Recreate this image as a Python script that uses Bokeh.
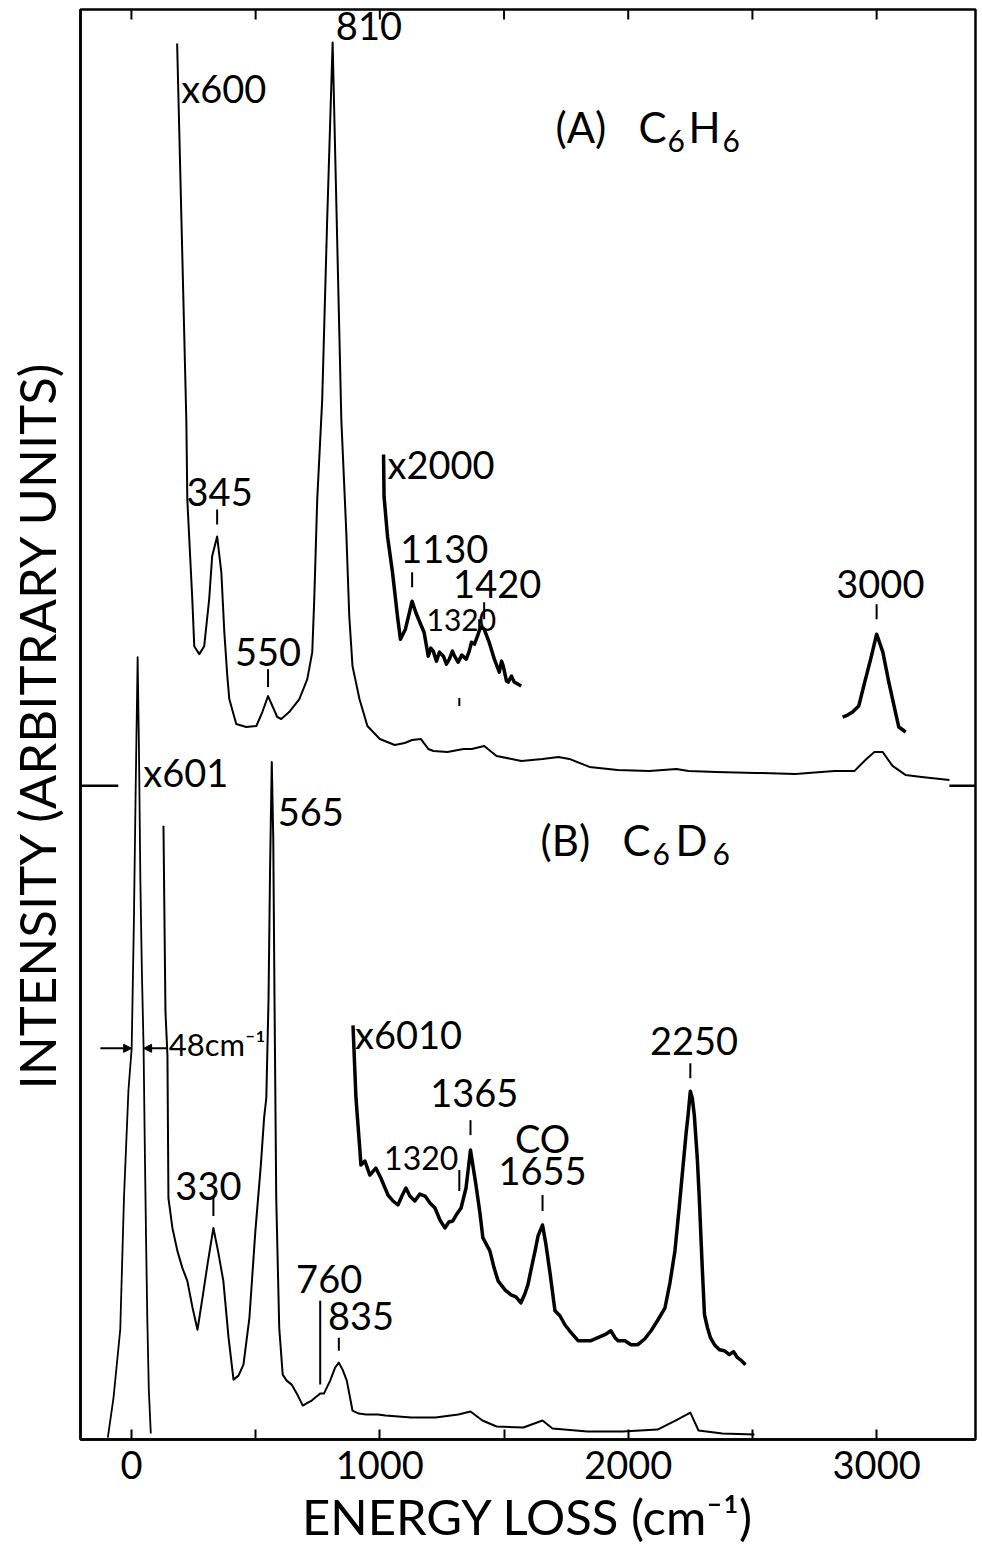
from bokeh.plotting import figure
from bokeh.models import Range1d, FixedTicker, ColumnDataSource, Arrow, NormalHead
from bokeh.core.properties import value
from bokeh.embed import file_html
from bokeh.resources import INLINE

# ---------------- data: energy loss (cm^-1) and intensity (arbitrary units) ----------------
# (A) C6H6, x600 trace (continues as the baseline out to 3300 cm^-1)
a600_e = [184, 221, 225, 245, 253, 273, 293, 313, 325, 345, 362, 374, 386, 394, 422, 462, 503,
          527, 550, 587, 603, 635, 676, 708, 728, 736, 748, 768, 788, 810, 845, 865, 877, 890,
          918, 950, 1000, 1060, 1100, 1130, 1165, 1195, 1216, 1272, 1337, 1370, 1420, 1470,
          1570, 1655, 1719, 1763, 1844, 1957, 2085, 2194, 2243, 2355, 2512, 2673, 2830, 2911,
          2959, 2991, 3024, 3064, 3116, 3181, 3293]
a600_i = [1399, 1022, 942, 842, 795, 787, 795, 842, 885, 905, 869, 809, 765, 742, 717, 714, 715,
          729, 745, 724, 722, 729, 742, 762, 789, 842, 942, 1042, 1222, 1400, 1022, 909, 825, 775,
          742, 715, 702, 696, 698, 701, 702, 692, 690, 689, 692, 692, 695, 685,
          680, 682, 684, 682, 674, 671, 670, 672, 670, 669, 668, 667, 670, 670,
          682, 689, 689, 675, 666, 664, 661]

# (A) x2000 expansion, 1000-1600 cm^-1
a2000_lo_e = [1015, 1017, 1031, 1051, 1071, 1083, 1103, 1130, 1146, 1161, 1178, 1195, 1205, 1215,
              1228, 1240, 1256, 1268, 1280, 1292, 1301, 1315, 1330, 1348, 1360, 1369, 1381, 1393,
              1405, 1420, 1440, 1461, 1481, 1490, 1497, 1510, 1517, 1530, 1541, 1555, 1569]
a2000_lo_i = [987, 945, 905, 869, 825, 802, 812, 840, 828, 819, 809, 785, 793, 790,
              780, 789, 785, 777, 782, 790, 785, 779, 786, 782, 790, 799, 797, 805,
              814, 812, 799, 782, 769, 780, 775, 760, 759, 765, 759, 757, 755]

# (A) x2000 expansion, C-H stretch region
a2000_hi_e = [2863, 2883, 2903, 2928, 2952, 2976, 3000, 3025, 3049, 3073, 3089, 3117]
a2000_hi_i = [724, 726, 729, 735, 759, 782, 807, 789, 759, 732, 714, 709]

# (B) C6D6, elastic peak (x1)
b_el_e = [-95, -72, -45, -30, -12, 1, 10, 17, 25, 30, 36, 42, 49, 54, 59, 64, 70, 78]
b_el_i = [2, 42, 110, 242, 350, 392, 520, 650, 784, 700, 560, 470, 392, 290, 200, 120, 50, 6]

# (B) x601 trace
b601_e = [129, 137, 145, 149, 165, 185, 205, 225, 246, 266, 286, 306, 330, 350, 370, 391, 411,
          431, 451, 475, 499, 521, 534, 543, 552, 558, 565, 571, 576, 583, 595, 609, 625, 645,
          670, 690, 710, 726, 740, 760, 775, 800, 820, 835, 850, 867, 890, 915, 945, 992, 1023,
          1127, 1224, 1316, 1365, 1413, 1470, 1578, 1655, 1695, 1836, 1977, 2118, 2190, 2250,
          2283, 2379, 2508]
b601_i = [615, 429, 385, 242, 212, 189, 172, 159, 132, 110, 142, 175, 212, 187, 159, 102, 60,
          64, 75, 122, 209, 275, 322, 342, 442, 569, 679, 602, 442, 242, 112, 65, 59, 55,
          44, 34, 37, 39, 42, 46, 46, 59, 72, 77, 70, 59, 29, 26, 25, 25, 24,
          22, 22, 25, 28, 19, 13, 12, 19, 11, 8, 8, 10, 19, 27,
          9, 6, 5]

# (B) x6010 expansion
b6010_e = [892, 904, 920, 924, 940, 960, 984, 1004, 1021, 1033, 1053, 1073, 1089, 1105, 1121,
           1141, 1161, 1182, 1202, 1222, 1242, 1262, 1278, 1294, 1310, 1327, 1347, 1365, 1387,
           1403, 1415, 1443, 1460, 1476, 1504, 1528, 1548, 1568, 1584, 1596, 1612, 1625, 1637,
           1655, 1669, 1685, 1705, 1725, 1745, 1770, 1798, 1826, 1850, 1878, 1906, 1930, 1947,
           1959, 1987, 2011, 2039, 2067, 2092, 2120, 2148, 2168, 2188, 2205, 2221, 2233, 2241,
           2250, 2258, 2266, 2278, 2286, 2298, 2307, 2319, 2331, 2347, 2367, 2387, 2407, 2424,
           2440, 2456, 2472]
b6010_i = [415, 342, 289, 275, 279, 265, 272, 262, 252, 245, 239, 235, 244, 252, 244,
           239, 246, 244, 237, 232, 220, 212, 218, 219, 226, 232, 252, 290, 255,
           227, 202, 189, 172, 159, 150, 145, 143, 137, 146, 155, 174, 189, 204,
           215, 195, 167, 129, 124, 115, 107, 99, 99, 99, 102, 105, 109, 102,
           99, 99, 95, 95, 101, 109, 120, 132, 157, 189, 232, 275, 307, 325,
           349, 342, 325, 282, 242, 172, 125, 112, 102, 95, 90, 89, 85, 88,
           82, 79, 75]

# assigned loss energies (cm^-1)
peaks_a = [345, 550, 810, 1130, 1320, 1420, 3000]
peaks_b = [330, 565, 760, 835, 1320, 1365, 1655, 2250]
fwhm_b = 48            # elastic peak width (cm^-1)
elastic_b = 25         # elastic peak centre (cm^-1)

x_ticks = [0, 1000, 2000, 3000]
x_minor = [500, 1500, 2500]

FONT_NAME = "Lato"
FONT = value(FONT_NAME)
X0, X1, Y0, Y1 = -205, 3398, 0, 1433

p = figure(width=982, height=1547, x_range=Range1d(X0, X1), y_range=Range1d(Y0, Y1),
           output_backend="svg", toolbar_location=None,
           min_border_left=80, min_border_right=7, min_border_top=9, min_border_bottom=105,
           background_fill_color="white", border_fill_color="white")
p.grid.visible = False
p.outline_line_color = "black"
p.outline_line_width = 2.5

xa = p.xaxis[0]
xa.ticker = FixedTicker(ticks=x_ticks, minor_ticks=x_minor)
xa.major_tick_in = 10
xa.major_tick_out = 0
xa.minor_tick_in = 10
xa.minor_tick_out = 0
xa.major_tick_line_width = 2
xa.minor_tick_line_width = 2
xa.axis_line_width = 2.5
xa.major_label_text_font = FONT_NAME
xa.major_label_text_font_size = "38px"
xa.major_label_text_color = "black"
xa.major_label_standoff = 11
xa.axis_label = "ENERGY LOSS (cm\u207b\u00b9)"
xa.axis_label_text_font = FONT_NAME
xa.axis_label_text_font_size = "49px"
xa.axis_label_text_font_style = "normal"
xa.axis_label_text_color = "black"
xa.axis_label_standoff = 5

ya = p.yaxis[0]
ya.ticker = FixedTicker(ticks=[])
ya.major_tick_in = 0
ya.major_tick_out = 0
ya.minor_tick_in = 0
ya.minor_tick_out = 0
ya.axis_line_width = 2.5
ya.major_label_standoff = 0
ya.axis_label = "INTENSITY (ARBITRARY UNITS)"
ya.axis_label_text_font = FONT_NAME
ya.axis_label_text_font_size = "51px"
ya.axis_label_text_font_style = "normal"
ya.axis_label_text_color = "black"
ya.axis_label_standoff = 14

# inward ticks along the top edge, same positions as the energy axis
top_ticks = x_ticks + x_minor
p.segment(x0=top_ticks, y0=[Y1] * len(top_ticks), x1=top_ticks, y1=[Y1 - 10] * len(top_ticks),
          line_color="black", line_width=2)

# spectra
p.line(a600_e, a600_i, line_color="black", line_width=2, line_join="round")
p.line(a2000_lo_e, a2000_lo_i, line_color="black", line_width=3.5, line_join="round")
p.line(a2000_hi_e, a2000_hi_i, line_color="black", line_width=3.5, line_join="round")
p.line(b_el_e, b_el_i, line_color="black", line_width=1.8, line_join="round")
p.line(b601_e, b601_i, line_color="black", line_width=2, line_join="round")
p.line(b6010_e, b6010_i, line_color="black", line_width=3.5, line_join="round")

# peak marker ticks
mark_x = [peaks_a[0], peaks_a[1], peaks_a[3], peaks_a[5], peaks_a[6], peaks_a[4], 1400,
          peaks_b[0], peaks_b[4], peaks_b[5], peaks_b[6], peaks_b[7], peaks_b[3], peaks_b[2]]
mark_y0 = [917, 754, 854, 822, 822, 735, 812, 224, 249, 305, 229, 362, 89, 55]
mark_y1 = [932, 772, 869, 839, 837, 743, 822, 242, 270, 320, 245, 377, 102, 139]
p.segment(x0=mark_x, y0=mark_y0, x1=mark_x, y1=mark_y1, line_color="black", line_width=2)

# divider ticks between the two spectra
p.segment(x0=[X0, 3293], y0=[655, 655], x1=[-53, X1], y1=[655, 655],
          line_color="black", line_width=2.5)

# FWHM arrows on the elastic peak
half = 392
for xs, xe in [(-125, elastic_b - fwhm_b / 2), (145, elastic_b + fwhm_b / 2)]:
    p.add_layout(Arrow(end=NormalHead(size=8, fill_color="black", line_color="black"),
                       x_start=xs, y_start=half, x_end=xe, y_end=half,
                       line_color="black", line_width=2))


def put_text(rows, size):
    """rows: (text, x, y, align); y is where the glyph bottoms should sit."""
    lift = 0.32 * size  # the svg text sits a little below the alphabetic anchor
    for align in ("left", "center", "right"):
        sel = [r for r in rows if r[3] == align]
        if not sel:
            continue
        src = ColumnDataSource(dict(x=[r[1] for r in sel], y=[r[2] + lift for r in sel],
                                    t=[r[0] for r in sel]))
        p.text(x="x", y="y", text="t", source=src, text_font=FONT,
               text_font_size=value(f"{size}px"), text_align=align,
               text_baseline="alphabetic", text_color="black")


# peak and scale labels
put_text([
    ("x600", 201, 1342, "left"),
    (str(peaks_a[2]), 823, 1404, "left"),
    (str(peaks_a[0]), peaks_a[0] + 10, 937, "center"),
    (str(peaks_a[1]), peaks_a[1], 777, "center"),
    ("x2000", 1031, 965, "left"),
    (str(peaks_a[3]), 1082, 880, "left"),
    (str(peaks_a[5]), 1295, 845, "left"),
    (str(peaks_a[6]), 3015, 845, "center"),
    ("x601", 48, 657, "left"),
    (str(peaks_b[1]), 589, 617, "left"),
    ("x6010", 900, 394, "left"),
    (str(peaks_b[7]), 2265, 387, "center"),
    (str(peaks_b[5]), 1380, 335, "center"),
    ("CO", 1655, 290, "center"),
    (str(peaks_b[6]), 1655, 257, "center"),
    (str(peaks_b[0]), 310, 242, "center"),
    (str(peaks_b[2]), 796, 149, "center"),
    (str(peaks_b[3]), 791, 112, "left"),
], 38)

put_text([("48cm\u207b\u00b9", 150, 386, "left")], 31)

# the two crowded 1320 labels are lettered a little smaller
put_text([(str(peaks_a[4]), 1188, 812, "left")], 30)
put_text([(str(peaks_b[4]), 1316, 272, "right")], 32)

# spectrum titles, with lowered subscripts
put_text([
    ("(A)", 1707, 1302, "left"), ("C", 2041, 1302, "left"), ("H", 2243, 1302, "left"),
    ("(B)", 1647, 587, "left"), ("C", 1977, 587, "left"), ("D", 2190, 587, "left"),
], 42)
put_text([
    ("6", 2158, 1292, "left"), ("6", 2380, 1292, "left"),
    ("6", 2098, 577, "left"), ("6", 2339, 577, "left"),
], 30)

open("out.html", "w").write(file_html(p, INLINE))
